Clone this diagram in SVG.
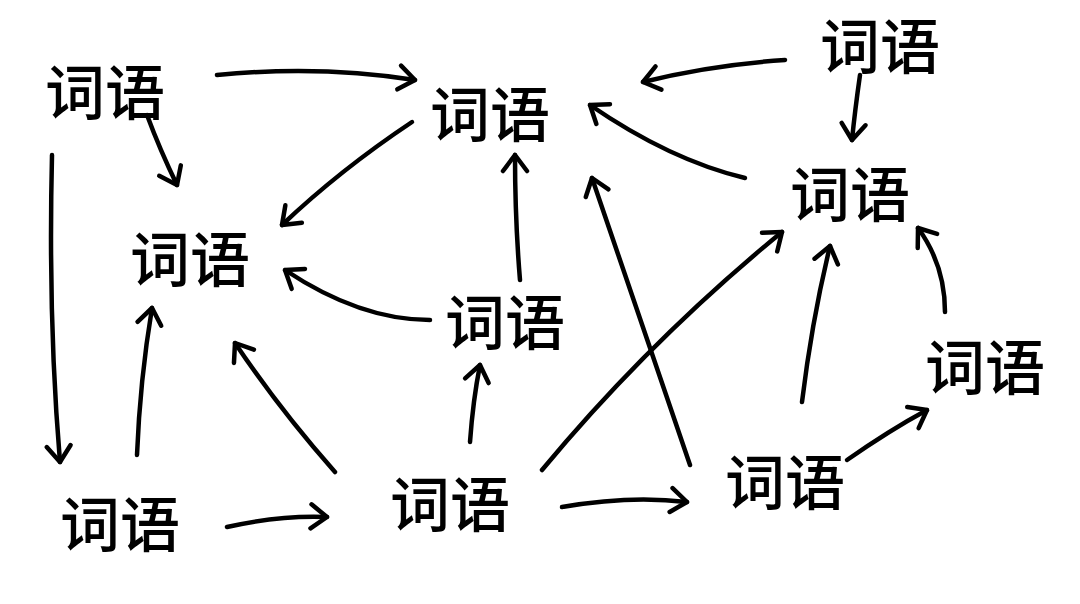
<svg xmlns="http://www.w3.org/2000/svg" width="1080" height="604" viewBox="0 0 1080 604">
<defs>
<marker id="ah" viewBox="-20 -15 24 30" refX="0" refY="0" markerWidth="24" markerHeight="30" orient="auto" markerUnits="userSpaceOnUse">
<path d="M-16,-12 L0,0 L-16,12" fill="none" stroke="#000" stroke-width="4.5" stroke-linecap="round" stroke-linejoin="round"/>
</marker>
<style>
.n{font-family:"Noto Sans CJK SC","Noto Sans CJK JP",sans-serif;font-size:60px;font-weight:500;fill:#000;text-anchor:middle;dominant-baseline:central}
.c path{fill:none;stroke:#000;stroke-width:4.5;stroke-linecap:round;marker-end:url(#ah)}
</style>
</defs>
<rect width="1080" height="604" fill="#fff"/>
<g id="nA"><text class="n" x="105" y="88">词语</text></g>
<g id="nB"><text class="n" x="490" y="110">词语</text></g>
<g id="nC"><text class="n" x="880" y="42">词语</text></g>
<g id="nD"><text class="n" x="190" y="255">词语</text></g>
<g id="nE"><text class="n" x="850" y="190">词语</text></g>
<g id="nF"><text class="n" x="505" y="318">词语</text></g>
<g id="nG"><text class="n" x="985" y="363">词语</text></g>
<g id="nH"><text class="n" x="120" y="520">词语</text></g>
<g id="nI"><text class="n" x="450" y="500">词语</text></g>
<g id="nJ"><text class="n" x="785" y="478">词语</text></g>
<g class="c" id="connectors">
<path d="M217,75 Q320,65 415,80"/>
<path d="M147,115 Q160,150 177,185"/>
<path d="M52,155 Q48,320 60,462"/>
<path d="M412,122 Q340,170 282,225"/>
<path d="M785,60 Q710,65 643,82"/>
<path d="M860,75 Q855,110 852,140"/>
<path d="M745,178 Q670,160 590,105"/>
<path d="M520,280 Q515,220 515,155"/>
<path d="M430,320 Q360,320 285,270"/>
<path d="M137,455 Q140,380 152,308"/>
<path d="M227,527 Q280,515 327,517"/>
<path d="M335,472 Q280,410 235,343"/>
<path d="M470,442 Q473,400 480,365"/>
<path d="M542,470 Q650,340 782,232"/>
<path d="M562,507 Q630,495 687,502"/>
<path d="M690,465 Q640,320 592,178"/>
<path d="M802,402 Q812,320 830,246"/>
<path d="M945,312 Q945,265 918,228"/>
<path d="M847,460 Q890,430 927,410"/>
</g>
</svg>
